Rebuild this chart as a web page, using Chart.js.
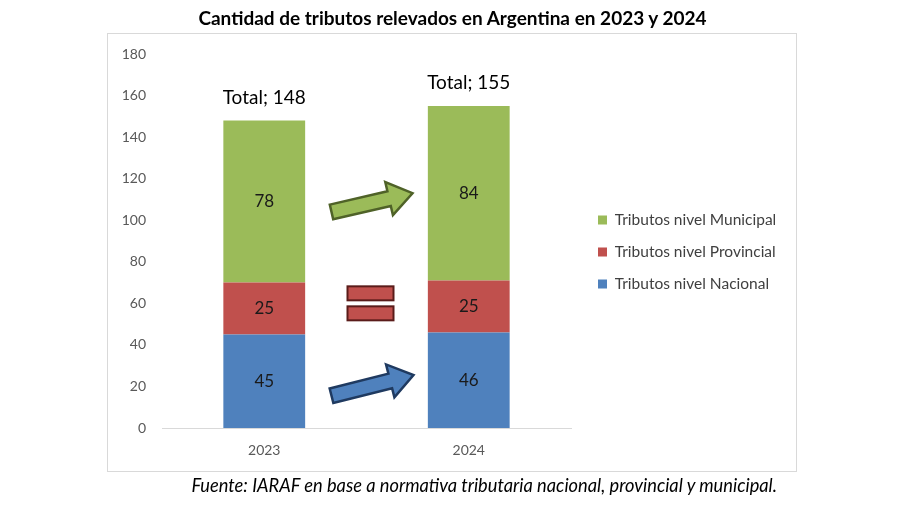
<!DOCTYPE html>
<html><head><meta charset="utf-8">
<script src="https://cdn.jsdelivr.net/npm/chart.js@4"></script>
<style>
html,body{margin:0;padding:0;background:#fff;}
#wrap{position:relative;width:900px;height:505px;overflow:hidden;}
canvas{position:absolute;left:0;top:0;}
#title{position:absolute;left:0;width:905px;top:6px;text-align:center;font:bold 19px Lato;color:#000;white-space:nowrap;}
#foot{position:absolute;right:123px;top:474px;font:italic 18.25px Lato;color:#000;white-space:nowrap;}
</style></head>
<body><div id="wrap"><canvas id="c" width="900" height="505"></canvas>
<div id="title">Cantidad de tributos relevados en Argentina en 2023 y 2024</div>
<div id="foot">Fuente: IARAF en base a normativa tributaria nacional, provincial y municipal.</div>
</div>
<script>
const categories = ['2023', '2024'];
const seriesNames = ['Tributos nivel Nacional', 'Tributos nivel Provincial', 'Tributos nivel Municipal'];
const nacional = [45, 46];
const provincial = [25, 25];
const municipal = [78, 84];
const yMax = 180;
const yStep = 20;
const totalPrefix = 'Total; ';

const colors = ['#4F81BD', '#C0504D', '#9BBB59'];
const FONT = 'Lato';

function arrow(ctx, x1, y1, x2, y2, fill, stroke) {
  const ang = Math.atan2(y2 - y1, x2 - x1), L = Math.hypot(x2 - x1, y2 - y1);
  const sw = 7.5, hl = 24, hw = 17;
  ctx.save();
  ctx.translate(x1, y1); ctx.rotate(ang);
  ctx.beginPath();
  ctx.moveTo(0, -sw); ctx.lineTo(L - hl, -sw); ctx.lineTo(L - hl, -hw); ctx.lineTo(L, 0);
  ctx.lineTo(L - hl, hw); ctx.lineTo(L - hl, sw); ctx.lineTo(0, sw); ctx.closePath();
  ctx.fillStyle = fill; ctx.fill();
  ctx.lineWidth = 2.5; ctx.strokeStyle = stroke; ctx.lineJoin = 'miter'; ctx.stroke();
  ctx.restore();
}

const deco = {
  id: 'deco',
  afterLayout(chart) {
    const lg = chart.legend;
    const target = chart.chartArea.right + 10.5;
    lg.left = target;
    lg.width = 300;
    lg.right = target + 300;
    lg.top -= 9; lg.bottom -= 9;
  },
  beforeDraw(chart) {
    const ctx = chart.ctx;
    ctx.save();
    ctx.strokeStyle = '#D9D9D9'; ctx.lineWidth = 1;
    ctx.strokeRect(107.5, 33.5, 689, 438);
    ctx.restore();
  },
  afterDatasetsDraw(chart) {
    const ctx = chart.ctx;
    const xs = chart.scales.x, ys = chart.scales.y;
    ctx.save();
    ctx.textAlign = 'center'; ctx.textBaseline = 'middle';
    ctx.fillStyle = '#1a1a1a';
    ctx.font = '17px ' + FONT;
    chart.data.datasets.forEach((ds, i) => {
      const meta = chart.getDatasetMeta(i);
      meta.data.forEach((bar, j) => {
        ctx.fillText(String(ds.data[j]), bar.x, (bar.y + bar.base) / 2);
      });
    });
    ctx.font = '19px ' + FONT;
    ctx.fillStyle = '#000';
    categories.forEach((c, j) => {
      const t = nacional[j] + provincial[j] + municipal[j];
      ctx.fillText(totalPrefix + t, xs.getPixelForValue(j), ys.getPixelForValue(t) - 23);
    });
    const mid = (xs.getPixelForValue(0) + xs.getPixelForValue(1)) / 2;
    arrow(ctx, mid - 35, ys.getPixelForValue(104), mid + 46, ys.getPixelForValue(113), '#9BBB59', '#4F6228');
    arrow(ctx, mid - 35, ys.getPixelForValue(15.5), mid + 47, ys.getPixelForValue(25.5), '#4F81BD', '#1F3A60');
    const ec = ys.getPixelForValue(60);
    ctx.fillStyle = '#C0504D'; ctx.strokeStyle = '#5A1C1A'; ctx.lineWidth = 2;
    [[ec - 17, 14], [ec + 3, 14]].forEach(([y, h]) => {
      ctx.fillRect(mid - 19, y, 46, h);
      ctx.strokeRect(mid - 19, y, 46, h);
    });
    ctx.restore();
  }
};

new Chart(document.getElementById('c'), {
  type: 'bar',
  data: {
    labels: categories,
    datasets: [
      { label: seriesNames[0], data: nacional, backgroundColor: colors[0], borderWidth: 0 },
      { label: seriesNames[1], data: provincial, backgroundColor: colors[1], borderWidth: 0 },
      { label: seriesNames[2], data: municipal, backgroundColor: colors[2], borderWidth: 0 }
    ]
  },
  options: {
    responsive: false,
    animation: false,
    barPercentage: 0.4,
    categoryPercentage: 1.0,
    layout: { padding: { left: 0, right: 229, top: 54, bottom: 37 } },
    plugins: {
      legend: {
        position: 'right',
        reverse: true,
        maxWidth: 100,
        labels: { boxWidth: 9, boxHeight: 9, padding: 16.5, color: '#404040', font: { family: FONT, size: 15.5 } }
      },
      tooltip: { enabled: false }
    },
    scales: {
      x: {
        stacked: true,
        grid: { display: false, drawTicks: false },
        border: { display: true, color: '#D9D9D9', width: 1 },
        ticks: { color: '#595959', padding: 14, font: { family: FONT, size: 14 } },
        afterFit(s) { s.height = 40; }
      },
      y: {
        stacked: true,
        min: 0, max: yMax,
        grid: { display: false, drawTicks: false },
        border: { display: false },
        ticks: { stepSize: yStep, color: '#595959', padding: 16, font: { family: FONT, size: 14 } },
        afterFit(s) { s.width = 162; }
      }
    }
  },
  plugins: [deco]
});
</script>
</body></html>
